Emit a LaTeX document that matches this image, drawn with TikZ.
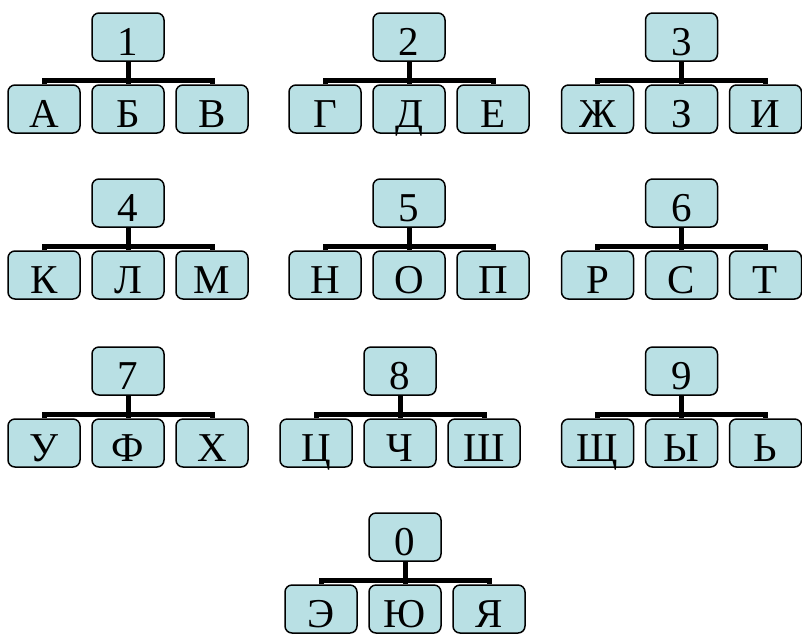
\documentclass[tikz,border=0pt]{standalone}
\usepackage{fontspec}
\setmainfont{Liberation Serif}
\definecolor{boxfill}{RGB}{185,224,228}
\tikzset{
  orgbox/.style={draw=black, line width=1.5pt, fill=boxfill, rounded corners=7pt,
    minimum width=72pt, inner xsep=0pt, inner ysep=0pt,
    text height=42.5pt, text depth=5.5pt, font=\fontsize{41}{41}\selectfont},
  orgconn/.style={line width=5pt, line join=miter}
}
\newcommand{\orggroup}[7]{%
  \node[orgbox] (t#1) at (#2,#3) {#4};
  \node[orgbox] (a#1) at ({#2-84},{#3+72}) {#5};
  \node[orgbox] (b#1) at (#2,{#3+72}) {#6};
  \node[orgbox] (c#1) at ({#2+84},{#3+72}) {#7};
  \coordinate (j#1) at (#2,{#3+43});
  \draw[orgconn] (t#1.south) -- (b#1.north);
  \draw[orgconn] (a#1.north) |- (j#1) -| (c#1.north);
}
\begin{document}
\begin{tikzpicture}[x=1pt,y=-1pt]
\useasboundingbox (0,0) rectangle (802,633);
\orggroup{1}{128}{37}{1}{А}{Б}{В}
\orggroup{2}{409}{37}{2}{Г}{Д}{Е}
\orggroup{3}{681.5}{37}{3}{Ж}{З}{И}
\orggroup{4}{128}{203}{4}{К}{Л}{М}
\orggroup{5}{409}{203}{5}{Н}{О}{П}
\orggroup{6}{681.5}{203}{6}{Р}{С}{Т}
\orggroup{7}{128}{371}{7}{У}{Ф}{Х}
\orggroup{8}{400}{371}{8}{Ц}{Ч}{Ш}
\orggroup{9}{681.5}{371}{9}{Щ}{Ы}{Ь}
\orggroup{10}{405}{537}{0}{Э}{Ю}{Я}
\end{tikzpicture}
\end{document}
